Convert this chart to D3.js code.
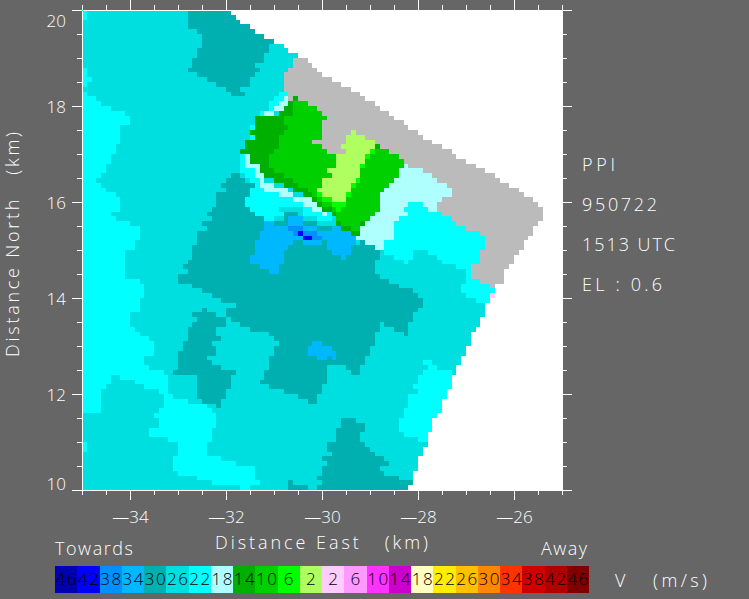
<!DOCTYPE html>
<html><head><meta charset="utf-8">
<script src="https://cdn.jsdelivr.net/npm/d3@7"></script>
<style>html,body{margin:0;background:#666}svg{display:block}text{font-family:"Open Sans",Roboto,sans-serif;font-weight:300}</style>
</head><body><svg id="c" width="749" height="599"></svg>
<script>
// Legend
const legendLabels=[46,42,38,34,30,26,22,18,14,10,6,2,2,6,10,14,18,22,26,30,34,38,42,46];
const legendColors=["#0000b0","#0000ff","#0090ff","#00b8ff","#00b0b0","#00dfdf","#00ffff","#b0ffff","#00b000","#00d000","#00ff00","#b0ff60","#ffccff","#ff99ff","#ff33ff","#cc00cc","#ffffc0","#ffee00","#ffc000","#ff8800","#ff3300","#d00000","#b00000","#800000"];
const noData="#bbbbbb";
const xTicks=[-34,-32,-30,-28,-26], yTicks=[10,12,14,16,18,20];
const infoLines=["PPI","950722","1513 UTC","EL : 0.6"];

// Velocity regions: [km east, km north]
const scanArea=[[-35,20],[-31.9,20],[-31.9,19.9],[-31.8,19.9],[-31.8,19.8],[-31.7,19.8],[-31.7,19.7],[-31.5,19.7],[-31.5,19.6],[-31.4,19.6],[-31.4,19.5],[-31.2,19.5],[-31.2,19.4],[-31,19.4],[-31,19.3],[-30.8,19.3],[-30.8,19.2],[-30.7,19.2],[-30.7,19.1],[-30.5,19.1],[-30.5,19],[-30.3,19],[-30.3,18.9],[-30.2,18.9],[-30.2,18.8],[-30.1,18.8],[-30.1,18.7],[-29.4,18.35],[-28.7,17.9],[-27.8,17.3],[-26.7,16.7],[-26,16.3],[-25.4,15.9],[-25.4,15.7],[-25.8,15.1],[-26.2,14.5],[-26.2,14.3],[-26.3,14.3],[-26.4,14.2],[-26.4,14],[-26.5,14],[-26.5,13.9],[-26.6,13.8],[-26.6,13.6],[-26.7,13.6],[-26.7,13.4],[-26.8,13.4],[-26.8,13.3],[-26.9,13.3],[-26.9,13],[-27,13],[-27,12.8],[-27.1,12.8],[-27.1,12.6],[-27.2,12.6],[-27.2,12.4],[-27.3,12.4],[-27.3,12.1],[-27.4,12.1],[-27.4,11.9],[-27.5,11.9],[-27.5,11.6],[-27.6,11.6],[-27.6,11.5],[-27.7,11.5],[-27.7,11.2],[-27.8,11.2],[-27.8,10.9],[-27.9,10.9],[-27.9,10.7],[-28,10.7],[-28,10.4],[-28.1,10.4],[-28.1,10.1],[-28.2,10.1],[-28.2,10],[-35,10]];
const greyArea=[[-30.8,18.35],[-30.8,18.7],[-30.7,18.7],[-30.7,18.8],[-30.6,18.8],[-30.6,19],[-30.3,19],[-30.3,18.9],[-30.2,18.9],[-30.2,18.8],[-30.1,18.8],[-30.1,18.7],[-29.4,18.35],[-28.7,17.9],[-27.8,17.3],[-26.7,16.7],[-26,16.3],[-25.4,15.9],[-25.4,15.7],[-25.8,15.1],[-26.2,14.5],[-26.2,14.3],[-26.3,14.3],[-26.4,14.2],[-26.5,14.2],[-26.5,14.3],[-26.7,14.3],[-26.7,14.4],[-26.9,14.4],[-26.9,14.6],[-26.8,14.7],[-26.7,14.7],[-26.7,15],[-26.6,15],[-26.6,15.3],[-26.7,15.4],[-26.9,15.4],[-27.1,15.5],[-27.3,15.6],[-27.4,15.7],[-27.6,15.8],[-27.6,15.9],[-27.5,16],[-27.4,16.1],[-27.3,16.1],[-27.3,16.3],[-27.5,16.4],[-27.8,16.6],[-28,16.7],[-28.3,16.8],[-29.8,16.8],[-30.5,17.7],[-30.7,18.1],[-30.7,18.3]];

const v22West=[[-35,18.3],[-34.7,18.2],[-34.5,18],[-34.2,17.9],[-34,17.8],[-34,17.6],[-34.2,17.6],[-34.2,17.3],[-34.4,16.9],[-34.6,16.5],[-34.7,16.45],[-34.5,16.25],[-34.3,16.15],[-34.2,16.05],[-34.2,15.8],[-34.4,15.8],[-34.3,15.6],[-34.1,15.6],[-33.9,15.5],[-33.8,15.4],[-33.8,15.2],[-34,15.2],[-33.9,15.1],[-34.1,14.9],[-34.1,14.4],[-33.8,14.4],[-33.7,14.3],[-33.7,14],[-33.8,13.95],[-33.8,13.7],[-34,13.7],[-34,13.5],[-33.9,13.3],[-33.5,13.1],[-33.5,12.8],[-33.7,12.75],[-33.7,12.6],[-33.6,12.55],[-33.6,12.5],[-33.3,12.5],[-33.2,12.4],[-33.2,12],[-33,11.9],[-32.8,11.9],[-32.8,11.8],[-32.5,11.8],[-32.2,11.6],[-32.2,11.3],[-32.3,11.3],[-32.3,11],[-32.4,11],[-32.4,10.7],[-32.1,10.7],[-32.1,10.6],[-31.8,10.6],[-31.8,10.5],[-31.4,10.5],[-31.4,10.2],[-31.3,10.2],[-31.3,10.1],[-31.5,10.1],[-31.5,10],[-31.7,10],[-31.7,10.1],[-32.3,10.1],[-32.3,10.2],[-32.6,10.2],[-32.6,10.3],[-33,10.3],[-33,10.4],[-33.1,10.4],[-33.1,10.7],[-33,10.7],[-33,11],[-33.2,11],[-33.2,11.1],[-33.6,11.1],[-33.6,11.3],[-33.4,11.3],[-33.4,11.5],[-33.5,11.5],[-33.5,11.6],[-33.4,11.6],[-33.4,11.7],[-33.3,11.7],[-33.3,12],[-33.4,12],[-33.4,12.1],[-33.7,12.1],[-33.7,12.2],[-33.9,12.2],[-33.9,12.3],[-34.2,12.3],[-34.2,12.4],[-34.4,12.4],[-34.4,12.2],[-34.5,12.1],[-34.6,12],[-34.6,11.6],[-35,11.6]];
const v22WestNotch=[[-35,18.8],[-34.9,18.8],[-34.9,18.6],[-34.8,18.6],[-34.8,18.5],[-34.9,18.5],[-34.9,18.4],[-35,18.4]];
const v22East=[[-28.2,16],[-27.9,16],[-27.9,15.9],[-27.8,15.9],[-27.8,15.8],[-27.2,15.8],[-26.5,15.2],[-26.5,14.3],[-26.4,14.2],[-26.4,14.1],[-26.5,14.1],[-26.5,13.9],[-26.8,13.9],[-26.8,14],[-27,14],[-27,14.1],[-27.1,14.1],[-27.1,14.3],[-27,14.3],[-27,14.6],[-27.2,14.6],[-27.2,14.7],[-27.5,14.7],[-27.5,14.8],[-27.6,14.8],[-27.6,14.9],[-27.8,14.9],[-27.8,15],[-28.1,15],[-28.1,14.8],[-28.2,14.8],[-28.2,14.7],[-28.3,14.7],[-28.3,14.8],[-28.5,14.8],[-28.5,14.9],[-28.7,14.9],[-28.7,15.1],[-28.6,15.2],[-28.5,15.2],[-28.5,15.5],[-28.4,15.7],[-28.2,15.7],[-28.2,15.8],[-28.3,15.8],[-28.3,15.9],[-28.2,15.9]];
const v22South=[[-27.9,12.7],[-27.7,12.7],[-27.7,12.6],[-27.6,12.6],[-27.6,12.5],[-27.3,12.5],[-27.3,12.1],[-27.4,12.1],[-27.4,11.9],[-27.5,11.9],[-27.5,11.6],[-27.6,11.6],[-27.6,11.5],[-27.7,11.5],[-27.7,11.2],[-27.8,11.2],[-27.8,11],[-28,11],[-28,11.1],[-28.3,11.1],[-28.3,11.2],[-28.4,11.2],[-28.4,11.5],[-28.3,11.5],[-28.3,11.7],[-28.2,11.7],[-28.2,12],[-28,12],[-28,12.1],[-28.1,12.1],[-28.1,12.2],[-28,12.2],[-28,12.4],[-27.9,12.4],[-27.9,12.5],[-27.8,12.5],[-27.8,12.6],[-27.9,12.6]];
const v22Center=[[-31.5,16.3],[-31.2,16.3],[-31.1,16.2],[-30.9,16.2],[-30.9,16.1],[-30.6,16.1],[-30.6,16],[-30.4,16],[-30.4,15.9],[-30.2,15.9],[-30.2,15.8],[-30,15.8],[-30,15.7],[-29.9,15.7],[-29.9,15.8],[-29.8,15.8],[-29.8,15.7],[-29.7,15.6],[-29.7,15.5],[-29.8,15.4],[-31.2,15.4],[-31.2,15.7],[-31.4,15.7],[-31.5,15.9],[-31.6,15.9],[-31.6,16.1],[-31.5,16.1]];
const v22Strip=[[-31.7,17],[-31.6,17],[-31.6,16.7],[-31.4,16.7],[-31.4,16.5],[-31.3,16.5],[-31.3,16.4],[-31.2,16.3],[-31.4,16.3],[-31.4,16.4],[-31.5,16.5],[-31.6,16.6],[-31.7,16.7]];
const v22North=[[-30.9,18.3],[-30.7,18.3],[-30.7,18.2],[-30.8,18.2],[-30.8,18.1],[-30.9,18.1],[-30.9,18],[-31,18],[-31,17.9],[-31.2,17.9],[-31.2,17.8],[-31.3,17.8],[-31.3,17.7],[-31.4,17.7],[-31.4,17.8],[-31.3,17.8],[-31.3,17.9],[-31.1,17.9],[-31.1,18.1],[-31,18.1],[-31,18.2],[-30.9,18.2]];
const v22Cells=[[-35,20,-34.9,19.8],[-35,11,-34.9,10.8],[-31.5,17.6,-31.4,17.5],[-31.5,17.4,-31.4,17.3]];

const v18East=[[-28.3,16.8],[-28,16.7],[-27.8,16.6],[-27.5,16.4],[-27.3,16.3],[-27.3,16.1],[-27.4,16.1],[-27.5,16],[-27.6,15.9],[-27.6,15.8],[-27.8,15.8],[-27.8,15.9],[-27.9,15.9],[-27.9,16],[-28.2,16],[-28.2,15.9],[-28.3,15.9],[-28.3,15.8],[-28.2,15.8],[-28.2,15.7],[-28.4,15.7],[-28.5,15.5],[-28.5,15.2],[-28.6,15.2],[-28.7,15.1],[-28.7,15],[-28.9,15],[-28.9,15.1],[-29.1,15.1],[-29.1,15.2],[-29.3,15.2],[-29.3,15.5],[-29,16],[-28.5,16.5]];
const v18West=[[-31.6,17],[-31.5,17],[-31.5,16.8],[-31.3,16.8],[-31.3,16.6],[-31.2,16.6],[-31.2,16.4],[-31.1,16.4],[-30.9,16.3],[-30.7,16.3],[-30.6,16.2],[-30.6,16.1],[-30.2,16.1],[-30,15.9],[-30,15.8],[-29.9,15.8],[-29.9,15.7],[-30,15.7],[-30,15.8],[-30.2,15.8],[-30.2,15.9],[-30.4,15.9],[-30.4,16],[-30.6,16],[-30.6,16.1],[-30.9,16.1],[-30.9,16.2],[-31.1,16.2],[-31.2,16.3],[-31.3,16.4],[-31.3,16.5],[-31.4,16.5],[-31.4,16.7],[-31.6,16.7]];
const v18North=[[-30.8,18.2],[-30.6,18.2],[-30.6,18.1],[-30.7,18.1],[-30.7,18],[-30.9,17.9],[-31.2,17.8],[-31.2,17.9],[-31,17.9],[-31,18],[-30.9,18],[-30.9,18.1],[-30.8,18.1]];
const v26Cells=[[-30.9,15.9,-30.4,15.8],[-31,15.7,-30.8,15.6],[-30.5,15.8,-30.4,15.7],[-30.4,15.7,-30.1,15.6],[-30.1,15.6,-29.7,15.5]];

const v30North=[[-32.7,20],[-32.8,19.9],[-32.8,19.6],[-32.6,19.6],[-32.5,19.5],[-32.5,19.2],[-32.6,19.2],[-32.6,19],[-32.7,19],[-32.7,18.8],[-32.8,18.8],[-32.8,18.7],[-32.6,18.7],[-32.5,18.6],[-32.3,18.5],[-32.1,18.4],[-31.9,18.3],[-31.9,18.2],[-31.6,18.2],[-31.6,18.3],[-31.7,18.3],[-31.7,18.4],[-31.5,18.4],[-31.5,18.6],[-31.4,18.6],[-31.4,18.7],[-31.3,18.7],[-31.3,18.8],[-31.4,18.8],[-31.4,18.9],[-31.2,18.9],[-31.2,19.1],[-31.1,19.1],[-31.1,19.3],[-31,19.3],[-31,20]];
const v30Center=[[-31.9,16.6],[-31.7,16.6],[-31.7,16.5],[-31.6,16.5],[-31.6,16.4],[-31.4,16.4],[-31.4,16.3],[-31.5,16.3],[-31.5,16.1],[-31.6,16.1],[-31.6,15.9],[-31.5,15.9],[-31.5,15.8],[-31.4,15.8],[-31.4,15.7],[-31.2,15.7],[-31.2,15.6],[-30.8,15.6],[-30.8,15.8],[-30.5,15.8],[-30.5,15.7],[-30.4,15.7],[-30.4,15.6],[-30.1,15.6],[-30.1,15.5],[-29.8,15.5],[-29.8,15.4],[-29.5,15],[-29.3,15.1],[-29.1,15.2],[-29.1,15.1],[-28.9,15.1],[-28.9,15],[-28.8,15],[-28.8,14.8],[-28.9,14.8],[-28.9,14.5],[-28.8,14.5],[-28.8,14.4],[-28.6,14.4],[-28.6,14.3],[-28.4,14.3],[-28.4,14.2],[-28.1,14.2],[-28.1,14.1],[-28,14.1],[-28,14],[-27.9,14],[-27.9,13.8],[-28,13.8],[-28,13.7],[-28.1,13.7],[-28.1,13.5],[-28.2,13.5],[-28.2,13.2],[-28.3,13.2],[-28.3,13.3],[-28.5,13.3],[-28.5,13.4],[-28.7,13.4],[-28.7,13.5],[-28.8,13.5],[-28.8,13.3],[-28.9,13.3],[-28.9,13],[-29,13],[-29,12.8],[-29.1,12.8],[-29.1,12.6],[-29.2,12.6],[-29.2,12.4],[-29.4,12.4],[-29.4,12.5],[-29.5,12.5],[-29.5,12.6],[-29.9,12.6],[-29.9,12.2],[-30,12.2],[-30,12],[-30.1,12],[-30.1,11.8],[-30.3,11.8],[-30.3,11.9],[-30.5,11.9],[-30.5,12],[-30.8,12],[-30.8,12.1],[-31.1,12.1],[-31.1,12.2],[-31.3,12.2],[-31.3,12.3],[-31.2,12.3],[-31.2,12.5],[-31.1,12.5],[-31.1,12.8],[-31,12.8],[-31,13],[-30.9,13],[-30.9,13.1],[-31,13.1],[-31,13.2],[-31.2,13.3],[-31.5,13.3],[-31.5,13.4],[-31.7,13.4],[-31.7,13.5],[-31.9,13.5],[-31.9,13.6],[-32,13.6],[-32,13.8],[-31.8,13.8],[-31.8,13.9],[-32.1,13.9],[-32.1,14],[-32.3,14],[-32.3,14.1],[-32.5,14.1],[-32.5,14.2],[-32.7,14.2],[-32.7,14.3],[-33,14.3],[-33,14.5],[-32.8,14.5],[-32.8,14.6],[-32.9,14.6],[-32.9,14.7],[-32.8,14.7],[-32.8,14.8],[-32.7,14.8],[-32.7,15.1],[-32.6,15.1],[-32.6,15.4],[-32.4,15.4],[-32.4,15.5],[-32.5,15.5],[-32.5,15.6],[-32.3,15.6],[-32.3,15.7],[-32.4,15.7],[-32.4,15.8],[-32.3,15.8],[-32.3,15.9],[-32.2,15.9],[-32.2,16.2],[-32,16.2],[-32,16.3],[-32.1,16.3],[-32.1,16.4],[-32,16.4],[-32,16.5],[-31.9,16.5]];
const v30West=[[-32.7,13.7],[-32.5,13.7],[-32.5,13.8],[-32.4,13.8],[-32.4,13.7],[-32.2,13.7],[-32.2,13.6],[-32,13.6],[-32,13.4],[-32.2,13.4],[-32.2,13.3],[-32.1,13.1],[-32.3,13.1],[-32.3,13],[-32.2,13],[-32.2,12.8],[-32.4,12.8],[-32.4,12.7],[-32.3,12.7],[-32.3,12.6],[-32.1,12.6],[-32.1,12.5],[-31.8,12.5],[-31.8,12.4],[-31.9,12.4],[-31.9,12.1],[-32,12.1],[-32,11.9],[-32.1,11.9],[-32.1,11.7],[-32.3,11.8],[-32.5,11.8],[-32.5,11.9],[-32.6,11.9],[-32.6,12.4],[-33.1,12.4],[-33.1,12.5],[-33,12.5],[-33,12.9],[-32.9,12.9],[-32.9,13.1],[-32.8,13.1],[-32.8,13.4],[-32.7,13.4],[-32.7,13.5],[-32.6,13.5],[-32.6,13.6],[-32.7,13.6]];
const v30South=[[-29.6,11.5],[-29.3,11.5],[-29.3,11.4],[-29.1,11.4],[-29.1,11.2],[-29.2,11.2],[-29.2,11],[-29.1,11],[-29.1,10.9],[-29,10.9],[-29,10.8],[-28.9,10.8],[-28.9,10.7],[-28.7,10.7],[-28.7,10.6],[-28.6,10.6],[-28.6,10.5],[-28.8,10.5],[-28.8,10.4],[-28.7,10.4],[-28.7,10.3],[-28.4,10.3],[-28.4,10.2],[-28.1,10.2],[-28.1,10.1],[-28.2,10.1],[-28.2,10],[-30.1,10],[-30.1,10.1],[-30,10.1],[-30,10.2],[-30.1,10.2],[-30.1,10.3],[-30,10.3],[-30,10.5],[-29.9,10.5],[-29.9,10.6],[-30,10.6],[-30,10.7],[-29.8,10.7],[-29.8,10.8],[-29.9,10.8],[-29.9,11],[-29.7,11],[-29.7,11.3],[-29.6,11.3]];
const v30Edge=[[-30.7,10.2],[-30.6,10.2],[-30.6,10.1],[-30.3,10.1],[-30.3,10],[-30.7,10]];

const v34Core=[[-31.2,15.6],[-31,15.6],[-31,15.5],[-30.7,15.5],[-30.7,15.7],[-30.4,15.7],[-30.4,15.5],[-30.1,15.5],[-30.1,15.4],[-29.8,15.4],[-29.8,15.5],[-29.6,15.5],[-29.5,15.4],[-29.3,15.3],[-29.3,15.1],[-29.4,15.1],[-29.4,14.9],[-29.5,14.9],[-29.5,14.8],[-29.6,14.8],[-29.6,14.9],[-29.8,14.9],[-29.9,15],[-29.9,15.2],[-30,15.2],[-30,15.1],[-30.4,15.1],[-30.4,15.2],[-30.5,15.2],[-30.6,15.3],[-30.6,15.1],[-30.7,15.1],[-30.8,14.9],[-30.8,14.7],[-30.9,14.7],[-30.9,14.5],[-31.1,14.5],[-31.1,14.6],[-31.3,14.6],[-31.3,14.7],[-31.5,14.7],[-31.5,14.9],[-31.4,14.9],[-31.4,15.2],[-31.3,15.2],[-31.3,15.4],[-31.2,15.4]];
const v34Spot=[[-30.2,13.1],[-30,13.1],[-30,13],[-29.8,13],[-29.8,12.9],[-29.7,12.9],[-29.7,12.7],[-29.8,12.7],[-29.8,12.8],[-29.9,12.8],[-29.9,12.7],[-30.1,12.7],[-30.1,12.8],[-30.3,12.8],[-30.3,13],[-30.2,13]];
const v38Core=[[-30.7,15.5],[-30.4,15.5],[-30.4,15.4],[-30.1,15.4],[-30.1,15.3],[-30,15.3],[-30,15.2],[-30.4,15.2],[-30.4,15.3],[-30.6,15.3],[-30.6,15.4],[-30.7,15.4]];
const v42Core=[[-30.5,15.4],[-30.4,15.4],[-30.4,15.3],[-30.2,15.3],[-30.2,15.2],[-30.4,15.2],[-30.4,15.3],[-30.5,15.3]];

const v10Area=[[-30.6,18.2],[-30.5,18.2],[-30.5,18.1],[-30.3,18.1],[-30.3,18],[-30.1,18],[-30.1,17.9],[-30,17.9],[-30,17.8],[-29.9,17.8],[-29.9,17.7],[-30,17.7],[-30,17.3],[-30.2,17.3],[-30.2,17.2],[-30,17.2],[-30,17.1],[-29.9,17.1],[-29.9,17],[-29.5,17],[-29.5,17.1],[-29.6,17.1],[-29.6,17.2],[-29.5,17.2],[-29.5,17.4],[-29.4,17.4],[-29.4,17.5],[-29.3,17.5],[-29.3,17.4],[-29.1,17.4],[-29.1,17.3],[-28.9,17.3],[-28.9,17.2],[-28.8,17.2],[-28.8,17.1],[-28.6,17.1],[-28.6,17],[-28.4,17],[-28.4,16.9],[-28.3,16.9],[-28.3,16.7],[-28.4,16.7],[-28.4,16.5],[-28.5,16.5],[-28.5,16.4],[-28.6,16.4],[-28.6,16.3],[-28.7,16.3],[-28.7,16.2],[-28.8,16.2],[-28.8,15.8],[-28.9,15.8],[-28.9,15.7],[-29.1,15.6],[-29.1,15.5],[-29.2,15.5],[-29.2,15.3],[-29.4,15.3],[-29.4,15.4],[-29.6,15.4],[-29.6,15.5],[-29.7,15.5],[-29.7,15.8],[-29.8,15.8],[-29.8,15.9],[-30,15.9],[-30.1,16],[-30.2,16.1],[-30.4,16.1],[-30.5,16.2],[-30.7,16.3],[-30.9,16.4],[-31.1,16.5],[-31.2,16.6],[-31.3,16.6],[-31.3,16.8],[-31.5,16.8],[-31.5,17],[-31.7,17],[-31.7,17.1],[-31.6,17.1],[-31.6,17.3],[-31.4,17.3],[-31.4,17.4],[-31.5,17.4],[-31.5,17.5],[-31.4,17.5],[-31.4,17.7],[-31.3,17.8],[-30.9,17.8],[-30.9,17.9],[-30.7,18],[-30.7,18.1],[-30.6,18.1]];
const v14West=[[-30.9,17.9],[-30.7,18],[-30.6,18],[-30.6,17.8],[-30.8,17.8],[-30.8,17.6],[-30.7,17.6],[-30.7,17.5],[-30.8,17.5],[-30.9,17.3],[-30.9,17.1],[-31,17.1],[-31,17],[-31.1,17],[-31.1,16.7],[-30.9,16.6],[-30.7,16.5],[-30.5,16.4],[-30.4,16.3],[-30.2,16.2],[-30.1,16.1],[-30,16],[-30,15.9],[-30.1,16],[-30.2,16.1],[-30.4,16.1],[-30.5,16.2],[-30.7,16.3],[-30.9,16.4],[-31.1,16.5],[-31.2,16.6],[-31.3,16.6],[-31.3,16.8],[-31.5,16.8],[-31.5,17],[-31.7,17],[-31.7,17.1],[-31.6,17.1],[-31.6,17.3],[-31.4,17.3],[-31.4,17.4],[-31.5,17.4],[-31.5,17.5],[-31.4,17.5],[-31.4,17.7],[-31.3,17.8],[-30.9,17.8]];
const v14Cells=[[-30.7,18.1,-30.6,18],[-30.6,18.2,-30.5,18.1],[-30,15.9,-29.8,15.8],[-29.8,15.8,-29.7,15.7],[-29.7,15.6,-29.6,15.5],[-29.6,15.5,-29.4,15.4],[-29.4,15.4,-29.2,15.3],[-29.2,15.6,-29.1,15.5],[-28.9,17.2,-28.8,17.1]];
const v6Cells=[[-29,17.1,-28.9,17],[-29.1,17,-29,16.9],[-29.2,16.8,-29.1,16.7],[-29.3,16.5,-29.2,16.4],[-29.4,16.4,-29.3,16.3],[-29.5,16.2,-29.4,16.1],[-29.6,16,-29.5,15.9],[-29.8,16,-29.6,15.9],[-29.7,15.9,-29.6,15.8],[-30,16.1,-29.8,16],[-30.1,16.2,-30,16.1]];
const v2Area=[[-29.7,17],[-29.5,17],[-29.5,17.1],[-29.6,17.1],[-29.6,17.2],[-29.5,17.2],[-29.5,17.4],[-29.4,17.4],[-29.4,17.5],[-29.3,17.5],[-29.3,17.4],[-29.1,17.4],[-29.1,17.3],[-28.9,17.3],[-28.9,17.1],[-29,17.1],[-29,17],[-29.1,17],[-29.1,16.8],[-29.2,16.8],[-29.2,16.5],[-29.3,16.5],[-29.3,16.4],[-29.4,16.4],[-29.4,16.2],[-29.5,16.2],[-29.5,16],[-29.8,16],[-29.8,16.1],[-30,16.1],[-30,16.2],[-30.1,16.2],[-30.1,16.3],[-30,16.3],[-30,16.5],[-29.8,16.5],[-29.8,16.6],[-29.9,16.6],[-29.9,16.7],[-29.7,16.7]];
const pinkCells=[[-26.5,14.1,-26.4,14]];

const box=([a,b,c,d])=>[[a,b],[c,b],[c,d],[a,d]];
const C=i=>legendColors[i];
// later entries paint over earlier ones
const layers=[
 [scanArea,C(5)],[v22West,C(6)],[v22WestNotch,C(6)],[v22East,C(6)],[v22South,C(6)],[v22Center,C(6)],[v22Strip,C(6)],[v22North,C(6)],
 ...v22Cells.map(b=>[box(b),C(6)]),
 [v18East,C(7)],[v18West,C(7)],[v18North,C(7)],
 ...v26Cells.map(b=>[box(b),C(5)]),
 [v30North,C(4)],[v30Center,C(4)],[v30West,C(4)],[v30South,C(4)],[v30Edge,C(4)],
 [greyArea,noData],
 [v34Core,C(3)],[v34Spot,C(3)],[v38Core,C(2)],[v42Core,C(1)],
 [v10Area,C(9)],[v14West,C(8)],...v14Cells.map(b=>[box(b),C(8)]),
 ...v6Cells.map(b=>[box(b),C(10)]),[v2Area,C(11)],
 ...pinkCells.map(b=>[box(b),C(12)])
];

const svg=d3.select("#c");
const x=d3.scaleLinear().domain([-35,-25]).range([82,562]);
const y=d3.scaleLinear().domain([10,20]).range([490,10]);
svg.append("rect").attr("width",749).attr("height",599).attr("fill","#666666");
svg.append("rect").attr("x",x(-35)).attr("y",y(20)).attr("width",x(-25)-x(-35)).attr("height",y(10)-y(20)).attr("fill","#fff");

// radar gate raster, 0.1 km gates
const step=0.1, n=100, cells=[];
for(let r=0;r<n;r++){
  let run=null;
  for(let c=0;c<n;c++){
    const e=-35+(c+.5)*step, no=20-(r+.5)*step;
    let col=null;
    for(const [poly,f] of layers) if(d3.polygonContains(poly,[e,no])) col=f;
    if(!d3.polygonContains(scanArea,[e,no])) col=null;
    if(run&&run.col===col) run.c1=c+1;
    else { if(run&&run.col) cells.push(run); run={r,c0:c,c1:c+1,col}; }
  }
  if(run&&run.col) cells.push(run);
}
svg.append("g").attr("shape-rendering","crispEdges").selectAll("rect").data(cells).join("rect")
 .attr("x",d=>x(-35+d.c0*step)).attr("width",d=>x(-35+d.c1*step)-x(-35+d.c0*step))
 .attr("y",d=>y(20-d.r*step)).attr("height",d=>y(20-(d.r+1)*step)-y(20-d.r*step))
 .attr("fill",d=>d.col);

// axes
const half=(a,b)=>d3.range(a,b+.01,.5);
const style=g=>{g.selectAll("path,line").attr("stroke","#fff").attr("stroke-width",1).attr("shape-rendering","crispEdges");g.selectAll("text").attr("fill","#fff").attr("font-size",17).attr("font-family","Open Sans").attr("font-weight",300);};
const fmt=d=>String(d).replace("-","\u2014");
[[d3.axisBottom(x),490,half(-35,-25),xTicks,fmt,11],[d3.axisTop(x),10,half(-35,-25),xTicks,null,0]].forEach(([ax,ty,mn,mj,f,p])=>{
  svg.append("g").attr("transform",`translate(0,${ty})`).call(ax.tickValues(mn).tickSize(5).tickSizeOuter(0).tickFormat("")).call(style);
  svg.append("g").attr("transform",`translate(0,${ty})`).call(ax.tickValues(mj).tickSize(10).tickPadding(p).tickFormat(f||"")).call(style).call(g=>g.select("path").remove());
});
[[d3.axisLeft(y),82,half(10,20),yTicks,d=>d,6],[d3.axisRight(y),562,half(10,20),yTicks,null,0]].forEach(([ax,tx,mn,mj,f,p])=>{
  svg.append("g").attr("transform",`translate(${tx},0)`).call(ax.tickValues(mn).tickSize(5).tickSizeOuter(0).tickFormat("")).call(style);
  svg.append("g").attr("transform",`translate(${tx},0)`).call(ax.tickValues(mj).tickSize(10).tickPadding(p).tickFormat(f||"")).call(style)
    .call(g=>g.select("path").remove())
    .call(g=>g.selectAll("text").attr("dy",d=>d===20?"0.95em":d===10?"-0.05em":"0.4em"));
});

const txt=(t,px,py,len,o={})=>svg.append("text").text(t).attr("x",px).attr("y",py).attr("fill",o.fill||"#fff").attr("font-size",o.size||18)
  .attr("textLength",len).attr("lengthAdjust","spacing").attr("transform",o.rot?`rotate(-90 ${px} ${py})`:null);
txt("Distance East   (km)",215,549,213).attr("xml:space","preserve");
txt("Distance North   (km)",19,357,225,{rot:1}).attr("xml:space","preserve");
txt("Towards",55,555,78);
txt("Away",541,555,46);
txt("V   (m/s)",615,587,92).attr("xml:space","preserve");
const infoY=d3.scalePoint().domain(infoLines).range([171,291]);
const infoW={"PPI":33,"950722":75,"1513 UTC":93,"EL : 0.6":80};
infoLines.forEach(l=>txt(l,582,infoY(l),infoW[l]));

// legend
const lx=d3.scaleBand().domain(d3.range(24)).range([55,589]);
const lg=svg.append("g").selectAll("g").data(legendLabels).join("g");
lg.append("rect").attr("x",(d,i)=>lx(i)).attr("width",lx.bandwidth()).attr("y",566).attr("height",27).attr("fill",(d,i)=>legendColors[i]).attr("shape-rendering","crispEdges");
lg.append("text").text(d=>d).attr("x",(d,i)=>lx(i)+lx.bandwidth()/2).attr("y",585).attr("text-anchor","middle").attr("fill","#000").attr("font-size",17).attr("textLength",d=>d>9?21:null).attr("lengthAdjust","spacing");
</script></body></html>
